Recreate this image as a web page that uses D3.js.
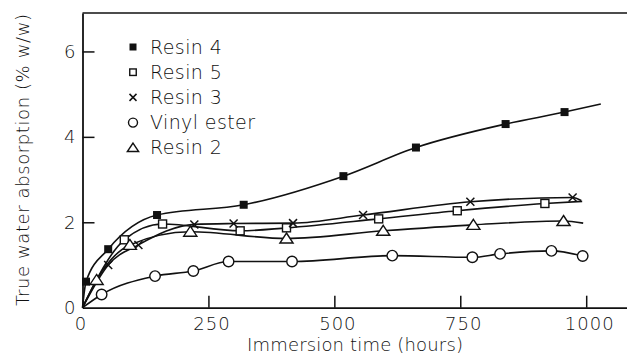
<!DOCTYPE html>
<html>
<head>
<meta charset="utf-8">
<script src="https://cdn.jsdelivr.net/npm/d3@7"></script>
<style>
  html, body { margin: 0; padding: 0; background: #fff; }
  svg { display: block; }
  text { font-family: "DejaVu Sans", sans-serif; font-weight: 200; fill: #111; }
</style>
</head>
<body>
<svg id="chart" width="627" height="358"></svg>
<script>
// Water uptake (% w/w) against immersion time (hours)
const xTicks = [0, 250, 500, 750, 1000];
const yTicks = [0, 2, 4, 6];

const resin4Hours  = [7, 51, 148, 320, 518, 662, 840, 957];
const resin4Values = [0.61, 1.37, 2.17, 2.41, 3.08, 3.75, 4.30, 4.58];
const resin4End    = [1029, 4.77];

const resin5Hours  = [83, 159, 313, 405, 588, 744, 918];
const resin5Values = [1.59, 1.96, 1.80, 1.87, 2.08, 2.27, 2.44];
const resin5End    = [992, 2.49];

const resin3Hours  = [51, 111, 222, 300, 418, 557, 770, 973];
const resin3Values = [1.00, 1.47, 1.95, 1.97, 1.98, 2.17, 2.48, 2.58];
const resin3End    = [990, 2.51];

const vinylHours   = [38, 144, 220, 290, 416, 615, 774, 829, 931, 993];
const vinylValues  = [0.31, 0.74, 0.86, 1.08, 1.08, 1.22, 1.18, 1.26, 1.33, 1.21];
const vinylEnd     = null;

const resin2Hours  = [28, 94, 214, 405, 597, 776, 955];
const resin2Values = [0.65, 1.47, 1.78, 1.62, 1.80, 1.94, 2.03];
const resin2End    = [994, 1.98];

const seriesNames   = ["Resin 4", "Resin 5", "Resin 3", "Vinyl ester", "Resin 2"];
const seriesSymbols = ["filledSquare", "square", "cross", "circle", "triangle"];

const series = [
  { hours: resin4Hours, values: resin4Values, end: resin4End },
  { hours: resin5Hours, values: resin5Values, end: resin5End },
  { hours: resin3Hours, values: resin3Values, end: resin3End },
  { hours: vinylHours,  values: vinylValues,  end: vinylEnd },
  { hours: resin2Hours, values: resin2Values, end: resin2End }
].map((s, i) => ({
  name: seriesNames[i],
  symbol: seriesSymbols[i],
  points: s.hours.map((h, j) => [h, s.values[j]]),
  end: s.end
}));

const svg = d3.select("#chart");
const ink = "#111";

const x = d3.scaleLinear().domain([0, 1081]).range([82.5, 627]);
const y = d3.scaleLinear().domain([0, 6.9]).range([307.7, 13]);

// axes with inward ticks
const xAxis = d3.axisBottom(x).tickValues(xTicks).tickSizeInner(-12).tickSizeOuter(0).tickPadding(10).tickFormat(d3.format("d"));
const yAxis = d3.axisLeft(y).tickValues(yTicks).tickSizeInner(-12).tickSizeOuter(0).tickPadding(6).tickFormat(d3.format("d"));

const gx = svg.append("g").attr("transform", `translate(0,${y(0)})`).call(xAxis);
const gy = svg.append("g").attr("transform", `translate(${x(0)},0)`).call(yAxis);

[gx, gy].forEach(g => {
  g.selectAll("path.domain").attr("stroke", ink).attr("stroke-width", 1.8);
  g.selectAll(".tick line").attr("stroke", ink).attr("stroke-width", 1.5);
  g.selectAll(".tick text").attr("font-size", 18).attr("font-family", "DejaVu Sans").attr("font-weight", 200).attr("fill", ink).attr("letter-spacing", 1);
});
gx.selectAll(".tick text").attr("dx", 3);
gx.selectAll(".tick").filter(d => d === 0).select("text").attr("dx", -2);
gy.selectAll(".tick").filter(d => d === 0).select("text").attr("dy", "0.32em");
gy.selectAll(".tick").filter(d => d === 0).select("line").remove();
gx.selectAll(".tick").filter(d => d === 0).select("line").remove();

// top border of the frame
svg.append("line")
  .attr("x1", x(0)).attr("x2", x.range()[1])
  .attr("y1", y.range()[1]).attr("y2", y.range()[1])
  .attr("stroke", ink).attr("stroke-width", 1.6);

// axis titles
svg.append("text")
  .attr("x", 355).attr("y", 351)
  .attr("text-anchor", "middle")
  .attr("font-size", 18)
  .attr("textLength", 216)
  .attr("lengthAdjust", "spacing")
  .text("Immersion time (hours)");

svg.append("text")
  .attr("transform", "translate(29,160) rotate(-90)")
  .attr("text-anchor", "middle")
  .attr("font-size", 18)
  .attr("textLength", 292)
  .attr("lengthAdjust", "spacing")
  .text("True water absorption (% w/w)");

// smooth curves from the origin through each series
const line = d3.line().x(d => x(d[0])).y(d => y(d[1])).curve(d3.curveMonotoneX);

svg.append("g").selectAll("path")
  .data(series)
  .join("path")
  .attr("fill", "none")
  .attr("stroke", ink)
  .attr("stroke-width", 1.6)
  .attr("d", s => line([[0, 0], ...s.points, ...(s.end ? [s.end] : [])]));

// marker drawing
function drawMarker(g, symbol, size) {
  const h = size / 2;
  if (symbol === "filledSquare") {
    g.append("rect").attr("x", -h).attr("y", -h).attr("width", size).attr("height", size).attr("fill", ink);
  } else if (symbol === "square") {
    g.append("rect").attr("x", -h).attr("y", -h).attr("width", size).attr("height", size)
      .attr("fill", "#fff").attr("stroke", ink).attr("stroke-width", 1.4);
  } else if (symbol === "cross") {
    g.append("path").attr("d", `M${-h},${-h}L${h},${h}M${-h},${h}L${h},${-h}`)
      .attr("stroke", ink).attr("stroke-width", 1.5).attr("fill", "none");
  } else if (symbol === "circle") {
    g.append("circle").attr("r", h + 0.5).attr("fill", "#fff").attr("stroke", ink).attr("stroke-width", 1.4);
  } else if (symbol === "triangle") {
    const w = size * 0.62;
    g.append("path").attr("d", `M0,${-h - 1}L${w + 1},${h}L${-w - 1},${h}Z`)
      .attr("fill", "#fff").attr("stroke", ink).attr("stroke-width", 1.4);
  }
}

const markerSize = { filledSquare: 8, square: 8, cross: 8, circle: 9.5, triangle: 9 };

series.forEach(s => {
  svg.append("g").selectAll("g")
    .data(s.points)
    .join("g")
    .attr("transform", d => `translate(${x(d[0])},${y(d[1])})`)
    .each(function () { drawMarker(d3.select(this), s.symbol, markerSize[s.symbol]); });
});

// legend
const legendSize = { filledSquare: 7, square: 6.5, cross: 7, circle: 8, triangle: 7.5 };
const legend = svg.append("g").attr("transform", "translate(133,47)");
const rows = legend.selectAll("g")
  .data(series)
  .join("g")
  .attr("transform", (d, i) => `translate(0,${i * 25.2})`);
rows.each(function (s) { drawMarker(d3.select(this), s.symbol, legendSize[s.symbol]); });
rows.append("text")
  .attr("x", 17).attr("y", 6.5)
  .attr("font-size", 19)
  .attr("letter-spacing", 0.4)
  .text(s => s.name);
</script>
</body>
</html>
